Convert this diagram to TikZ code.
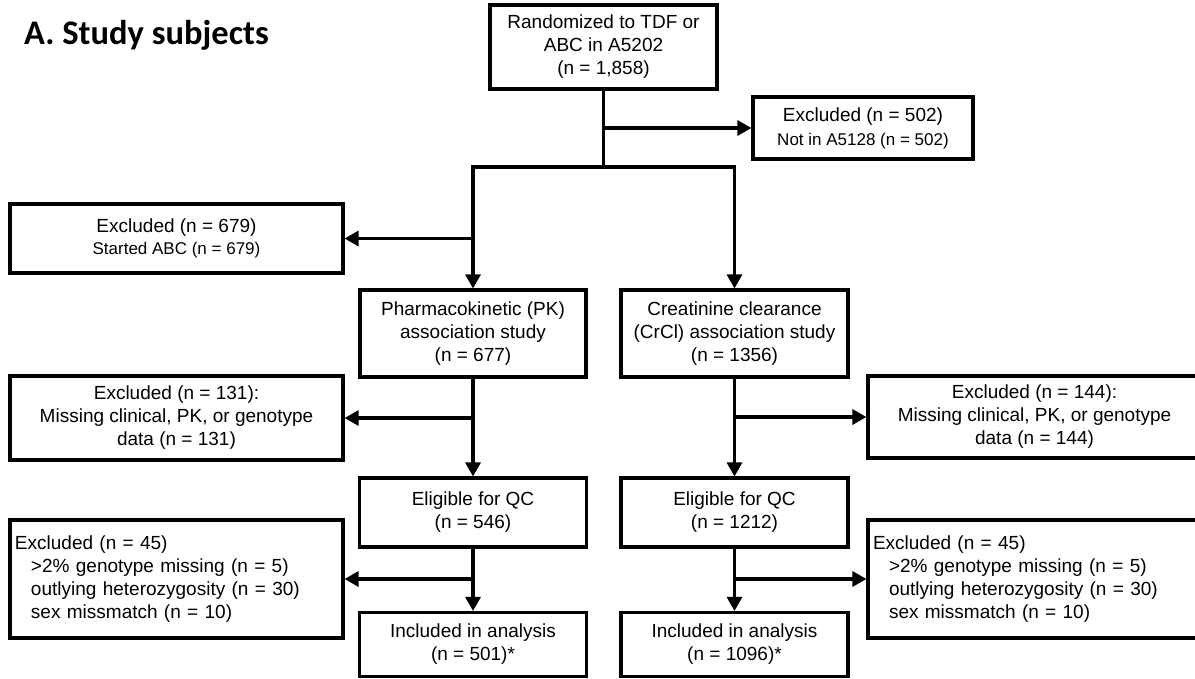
\documentclass[tikz,border=0pt]{standalone}
\usepackage{fontspec}
\setmainfont{Liberation Sans}
\newfontfamily\titlefont{Carlito}
\usetikzlibrary{arrows.meta,calc}
\newcommand\mainfs{\fontsize{19}{23}\selectfont}
\newcommand\smallfs{\fontsize{17}{22}\selectfont}
\newcommand\titlefs{\titlefont\bfseries\fontsize{34.5}{40}\selectfont}
\tikzset{
  box/.style={draw, line width=3.1pt, rectangle, inner sep=0pt, align=center, font=\mainfs},
  lbox/.style={box, align=left, inner xsep=5pt, inner ysep=0pt, text width=323pt},
  conn/.style={line width=3.1pt},
  arr/.style={line width=3.1pt, -{Triangle[length=14pt,width=15pt]}},
}
\begin{document}
\begin{tikzpicture}[x=1pt,y=-1pt]
\useasboundingbox (0,0) rectangle (1195,678);
\clip (0,0) rectangle (1195,678);

\node[anchor=base west, inner sep=0pt, font=\titlefs] (title) at (24,44) {A. Study subjects};

\node[box, minimum width=227pt, minimum height=84pt] (top) at (603.5,47)
  {Randomized to TDF or\\ABC in A5202\\(n = 1,858)};
\node[box, minimum width=220pt, minimum height=62pt] (ex502) at (863,128)
  {Excluded (n = 502)\\[1pt]{\smallfs Not in A5128 (n = 502)}};
\node[box, minimum width=333pt, minimum height=69pt] (ex679) at (176.5,238.5)
  {Excluded (n = 679)\\[-1pt]{\smallfs Started ABC (n = 679)}};

\node[box, minimum width=226pt, minimum height=87pt] (pk) at (473,333.5)
  {Pharmacokinetic (PK)\\association study\\(n = 677)};
\node[box, minimum width=227pt, minimum height=87pt] (crcl) at (734.5,333.5)
  {Creatinine clearance\\(CrCl) association study\\(n = 1356)};

\node[box, minimum width=333pt, minimum height=84pt] (ex131) at (176.5,418)
  {Excluded (n = 131):\\Missing clinical, PK, or genotype\\data (n = 131)};
\node[box, minimum width=333pt, minimum height=82pt] (ex144) at (1034.5,417)
  {Excluded (n = 144):\\Missing clinical, PK, or genotype\\data (n = 144)};

\node[box, minimum width=227pt, minimum height=69pt] (elig1) at (473,512.5)
  {Eligible for QC\\(n = 546)};
\node[box, minimum width=227pt, minimum height=69pt] (elig2) at (734.5,512.5)
  {Eligible for QC\\(n = 1212)};

\node[lbox, minimum height=118pt] (ex45a) at (176.5,579)
  {Excluded (n = 45)\\
   \hspace*{16pt}>2\% genotype missing (n = 5)\\
   \hspace*{16pt}outlying heterozygosity (n = 30)\\
   \hspace*{16pt}sex missmatch (n = 10)};
\node[lbox, minimum height=118pt] (ex45b) at (1034.5,579)
  {Excluded (n = 45)\\
   \hspace*{16pt}>2\% genotype missing (n = 5)\\
   \hspace*{16pt}outlying heterozygosity (n = 30)\\
   \hspace*{16pt}sex missmatch (n = 10)};

\node[box, minimum width=227pt, minimum height=64pt] (inc1) at (473,644.5)
  {Included in analysis\\(n = 501)*};
\node[box, minimum width=227pt, minimum height=64pt] (inc2) at (734.5,644.5)
  {Included in analysis\\(n = 1096)*};

\coordinate (s1) at (603.5,167);
\draw[conn] (top.south) -- (s1);
\draw[arr] (ex502.west -| top.south) -- (ex502.west);
\draw[arr] (s1) -| (pk.north);
\draw[arr] (s1) -| (crcl.north);
\draw[arr] (ex679.east -| pk.north) -- (ex679.east);
\draw[arr] (pk.south) -- (elig1.north);
\draw[arr] (ex131.east -| pk.south) -- (ex131.east);
\draw[arr] (crcl.south) -- (elig2.north);
\draw[arr] (ex144.west -| crcl.south) -- (ex144.west);
\draw[arr] (elig1.south) -- (inc1.north);
\draw[arr] (ex45a.east -| elig1.south) -- (ex45a.east);
\draw[arr] (elig2.south) -- (inc2.north);
\draw[arr] (ex45b.west -| elig2.south) -- (ex45b.west);
\end{tikzpicture}
\end{document}
